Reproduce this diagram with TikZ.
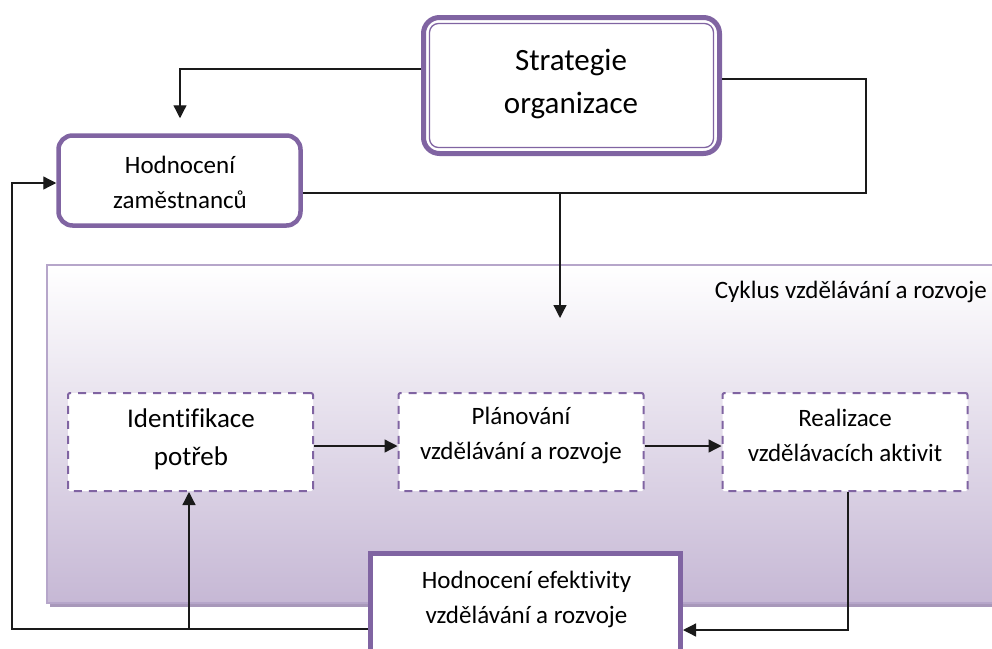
\documentclass[tikz,border=0pt]{standalone}
\usepackage{fontspec}
\setmainfont{Carlito}[Ligatures={NoCommon}]
\usetikzlibrary{arrows.meta,shadows}
\definecolor{purp}{HTML}{8064A2}
\definecolor{lpurp}{HTML}{B6A6CA}
\definecolor{cycbot}{HTML}{C6B8D5}
\definecolor{shad}{HTML}{A898BA}
\definecolor{linec}{HTML}{1A1A1A}
\begin{document}
\begin{tikzpicture}[x=1pt,y=-1pt,
  thickbox/.style={draw=purp,line width=5pt,fill=white,inner sep=0pt},
  dashbox/.style={draw=purp,line width=2pt,dash pattern=on 8pt off 7pt,fill=white,
    rounded corners=2pt,minimum width=245pt,minimum height=98pt,inner sep=0pt},
  conn/.style={draw=linec,line width=1.3pt},
  arr/.style={conn,-{Triangle[length=13pt,width=13pt]}},
  lbl/.style={align=center,inner sep=0pt,text=black},
  big/.style={font=\fontsize{31}{43}\selectfont},
  mid/.style={font=\fontsize{27}{38}\selectfont},
  small/.style={font=\fontsize{25}{35}\selectfont},
]
\useasboundingbox (0,0) rectangle (992,648);
\clip (0,0) rectangle (992,648);

% cycle container
\node[draw=lpurp,line width=1.5pt,top color=white,bottom color=cycbot,
  minimum width=953pt,minimum height=338pt,inner sep=0pt,
  drop shadow={shadow xshift=3pt,shadow yshift=-4pt,fill=shad,opacity=1}]
  (cyc) at (523.5,434) {};
\node[lbl,small,anchor=east] (cyct) at (987,292) {Cyklus vzdělávání a rozvoje};

% Strategie organizace
\node[thickbox,rounded corners=16pt,minimum width=296pt,minimum height=136pt]
  (strat) at (571.5,85.5) {};
\draw[purp,line width=1.3pt,rounded corners=9pt]
  ([shift={(8.5,8.5)}]strat.north west) rectangle ([shift={(-8.5,-8.5)}]strat.south east);
\node[lbl,big] (stratt) at (571,83.5) {Strategie\\organizace};

% Hodnoceni zamestnancu
\node[thickbox,line width=4.5pt,rounded corners=14pt,minimum width=242pt,minimum height=90pt]
  (hod) at (179.5,180.5) {};
\node[lbl,small] (hodt) at (180,182.5) {Hodnocení\\zaměstnanců};

% cycle steps
\node[dashbox] (ident) at (190.5,442) {};
\node[lbl,mid] (identt) at (191,439) {Identifikace\\potřeb};
\node[dashbox] (plan) at (521,442) {};
\node[lbl,small] (plant) at (521,435) {Plánování\\vzdělávání a rozvoje};
\node[dashbox] (real) at (845,442) {};
\node[lbl,small] (realt) at (845,435) {Realizace\\vzdělávacích aktivit};

% Hodnoceni efektivity
\node[thickbox,minimum width=310pt,minimum height=127pt] (eff) at (525.5,617) {};
\node[lbl,small] (efft) at (526.5,599.5) {Hodnocení efektivity\\vzdělávání a rozvoje};

% helper coordinates
\coordinate (rturn) at (866,193);
\coordinate (split) at (560,193);
\coordinate (cycin) at (560,318);
\coordinate (lturn) at (12,183);
\coordinate (fbsplit) at (189,629);

% connectors
\draw[arr,shorten >=15pt] (strat.west |- 0,69) -| (hod.north -| 180,0);
\draw[conn] (strat.east |- 0,79) -| (rturn) -- (hod.east |- rturn);
\draw[arr] (split) -- (cycin);
\draw[arr] (ident.east |- 0,446) -- (plan.west |- 0,446);
\draw[arr] (plan.east |- 0,446) -- (real.west |- 0,446);
\draw[arr] (real.south -| 848,0) |- (eff.east |- 0,630);
\draw[arr] (eff.west |- fbsplit) -| (lturn) -- (hod.west |- lturn);
\draw[arr] (fbsplit) -- (ident.south -| fbsplit);
\end{tikzpicture}
\end{document}
